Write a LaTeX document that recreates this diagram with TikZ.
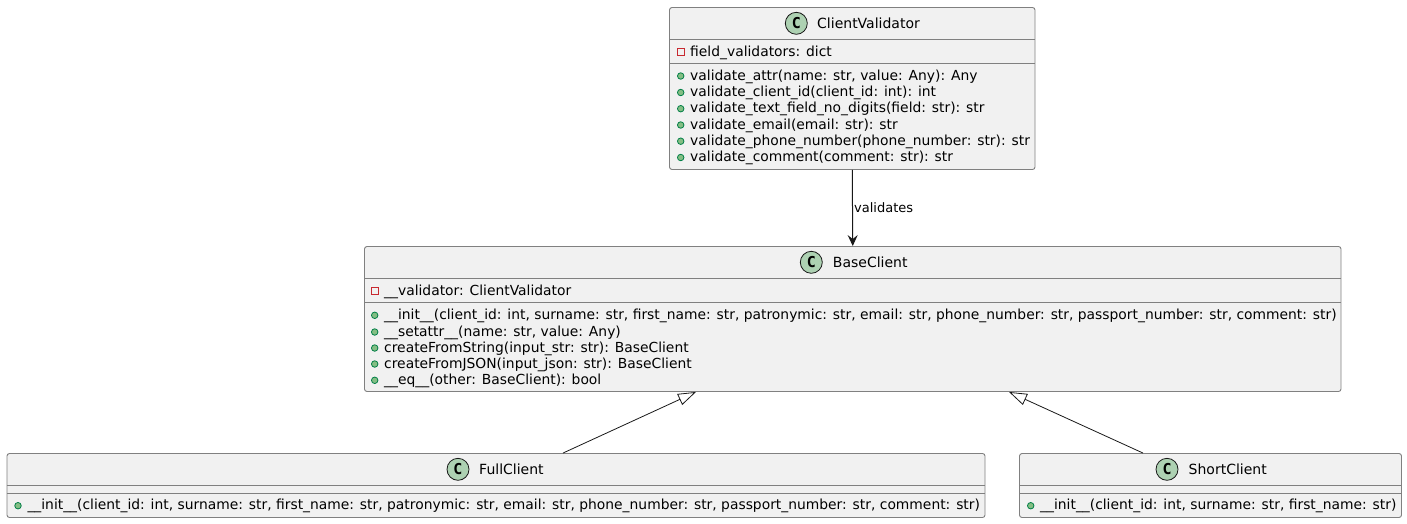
\documentclass[tikz,border=0pt]{standalone}
\usepackage{fontspec}
\setmainfont{DejaVu Sans}
\newfontfamily\spotfont{DejaVu Sans Mono}
\usetikzlibrary{arrows.meta}
\definecolor{boxfill}{HTML}{F1F1F1}
\definecolor{boxline}{HTML}{808080}
\definecolor{ink}{HTML}{181818}
\definecolor{spotfill}{HTML}{ADD1B2}
\definecolor{pubfill}{HTML}{84BE84}
\definecolor{publine}{HTML}{038048}
\definecolor{privline}{HTML}{C82930}
\tikzset{
  umlbox/.style={draw=boxline,fill=boxfill,line width=0.9pt,rounded corners=2.5pt,rectangle,inner sep=0pt},
  divider/.style={draw=boxline,line width=0.9pt},
  spot/.style={circle,draw=ink,fill=spotfill,line width=0.8pt,minimum size=22pt,inner sep=0pt,font=\spotfont\bfseries\fontsize{15}{15}\selectfont},
  titletext/.style={anchor=base west,inner sep=0pt,font=\fontsize{14}{16}\selectfont,text=black},
  membertext/.style={anchor=base west,inner sep=0pt,font=\fontsize{13.86}{16}\selectfont,text=black},
  edgetext/.style={anchor=base west,inner sep=0pt,font=\fontsize{13}{15}\selectfont,text=black},
  pubmark/.style={circle,draw=publine,fill=pubfill,line width=0.8pt,minimum size=6.5pt,inner sep=0pt},
  privmark/.style={rectangle,draw=privline,fill=none,line width=0.8pt,minimum size=6.5pt,inner sep=0pt},
  assoc/.style={draw=ink,line width=1pt,-{Stealth[length=11pt,width=10pt,inset=4pt]}},
  inherit/.style={draw=ink,line width=0.8pt,-{Triangle[open,length=18pt,width=12pt]}}
}
\newcommand{\pubrow}[4]{%
  \node[pubmark] (#1m) at (#2-9.3,#3-4) {};
  \node[membertext] (#1t) at (#2,#3) {#4};}
\newcommand{\privrow}[4]{%
  \node[privmark] (#1m) at (#2-9.3,#3-4) {};
  \node[membertext] (#1t) at (#2,#3) {#4};}
\begin{document}
\begin{tikzpicture}[x=1pt,y=-1pt]
\useasboundingbox (0,0) rectangle (1407,523);

% boxes
\node[umlbox,minimum width=365.5pt,minimum height=162pt] (cv) at (852.25,88.5) {};
\node[umlbox,minimum width=976.5pt,minimum height=145pt] (bc) at (852.75,319) {};
\node[umlbox,minimum width=978pt,minimum height=64pt] (fc) at (496,485.5) {};
\node[umlbox,minimum width=382pt,minimum height=64pt] (sc) at (1210.5,485.5) {};

% dividers
\draw[divider] (cv.west |- 0,39.5) -- (cv.east |- 0,39.5);
\draw[divider] (cv.west |- 0,63.5) -- (cv.east |- 0,63.5);
\draw[divider] (bc.west |- 0,278.5) -- (bc.east |- 0,278.5);
\draw[divider] (bc.west |- 0,302.5) -- (bc.east |- 0,302.5);
\draw[divider] (fc.west |- 0,485.5) -- (fc.east |- 0,485.5);
\draw[divider] (fc.west |- 0,493.5) -- (fc.east |- 0,493.5);
\draw[divider] (sc.west |- 0,485.5) -- (sc.east |- 0,485.5);
\draw[divider] (sc.west |- 0,493.5) -- (sc.east |- 0,493.5);

% headers
\node[spot] (cvs) at (796.3,23.3) {C};
\node[titletext] (cvt) at (817,28) {ClientValidator};
\node[spot] (bcs) at (811.3,262.3) {C};
\node[titletext] (bct) at (832.7,267.3) {BaseClient};
\node[spot] (fcs) at (458,469.3) {C};
\node[titletext] (fct) at (479,474) {FullClient};
\node[spot] (scs) at (1167,469.3) {C};
\node[titletext] (sct) at (1188.5,474) {ShortClient};

% ClientValidator members
\privrow{cva}{690}{56}{field\_validators: dict}
\pubrow{cvb}{690}{80}{validate\_attr(name: str, value: Any): Any}
\pubrow{cvc}{690}{96.5}{validate\_client\_id(client\_id: int): int}
\pubrow{cvd}{690}{112.7}{validate\_text\_field\_no\_digits(field: str): str}
\pubrow{cve}{690}{129}{validate\_email(email: str): str}
\pubrow{cvf}{690}{145.2}{validate\_phone\_number(phone\_number: str): str}
\pubrow{cvg}{690}{161.5}{validate\_comment(comment: str): str}

% BaseClient members
\privrow{bca}{384}{295}{\_\_validator: ClientValidator}
\pubrow{bcb}{384}{319.3}{\_\_init\_\_(client\_id: int, surname: str, first\_name: str, patronymic: str, email: str, phone\_number: str, passport\_number: str, comment: str)}
\pubrow{bcc}{384}{336}{\_\_setattr\_\_(name: str, value: Any)}
\pubrow{bcd}{384}{352}{createFromString(input\_str: str): BaseClient}
\pubrow{bce}{384}{368}{createFromJSON(input\_json: str): BaseClient}
\pubrow{bcf}{384}{384.3}{\_\_eq\_\_(other: BaseClient): bool}

% FullClient and ShortClient members
\pubrow{fca}{27.3}{509.7}{\_\_init\_\_(client\_id: int, surname: str, first\_name: str, patronymic: str, email: str, phone\_number: str, passport\_number: str, comment: str)}
\pubrow{sca}{1040}{509.7}{\_\_init\_\_(client\_id: int, surname: str, first\_name: str)}

% connectors
\draw[assoc] (cv.south) -- (bc.north);
\node[edgetext] (lbl) at (854,212) {validates};
\draw[inherit] ([xshift=67pt]fc.north) -- ([xshift=-156.75pt]bc.south);
\draw[inherit] ([xshift=-67.5pt]sc.north) -- ([xshift=156.25pt]bc.south);
\end{tikzpicture}
\end{document}
